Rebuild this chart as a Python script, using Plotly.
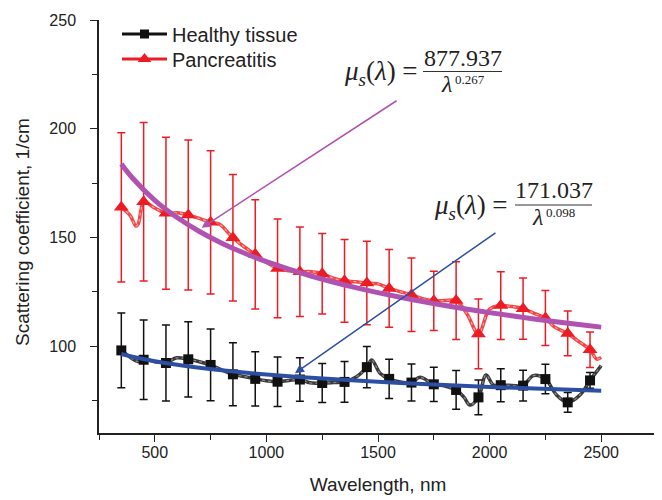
import plotly.graph_objects as go

# ---------------- data ----------------
wavelength = [350, 450, 550, 650, 750, 850, 950, 1050, 1150, 1250, 1350,
              1450, 1550, 1650, 1750, 1850, 1950, 2050, 2150, 2250, 2350, 2450]

healthy = [98.0, 93.7, 92.2, 93.9, 91.3, 87.0, 84.9, 83.6, 84.6, 83.0, 83.5,
           90.3, 84.9, 83.2, 82.4, 79.8, 76.4, 82.0, 81.8, 84.8, 74.1, 84.2]
healthy_err = [17.2, 18.3, 17.5, 17.3, 16.5, 14.5, 12.5, 11.4, 10.0, 9.0, 9.4,
               9.5, 9.0, 8.5, 7.9, 8.9, 8.0, 7.6, 7.1, 6.8, 4.5, 3.6]

pancreatitis = [163.8, 166.4, 161.1, 160.3, 156.9, 149.8, 142.2, 135.7, 134.2, 133.3, 130.0,
                129.0, 126.5, 123.6, 120.8, 120.9, 105.6, 118.6, 117.2, 112.9, 105.8, 98.3]
pancreatitis_err = [34.3, 36.5, 35.0, 34.5, 33.0, 29.1, 25.1, 22.7, 20.6, 18.5, 19.0,
                    19.2, 17.9, 16.9, 13.6, 17.9, 16.0, 15.6, 14.1, 12.7, 10.3, 8.2]

# continuous spectra
healthy_spec_wl = [350, 424, 450, 500, 550, 598, 650, 700, 750, 800, 850, 900, 950, 1000,
                   1050, 1100, 1150, 1195, 1250, 1300, 1350, 1404, 1450, 1472, 1509, 1550,
                   1600, 1650, 1688, 1750, 1800, 1850, 1885, 1912, 1950, 1984, 2017, 2050,
                   2100, 2150, 2196, 2250, 2300, 2350, 2405, 2450, 2500]
healthy_spec = [98.2, 92.9, 94.0, 92.8, 92.3, 94.6, 93.9, 92.8, 91.3, 89.0, 87.0, 86.0, 84.9, 84.0,
                83.6, 84.2, 84.6, 83.1, 83.0, 83.2, 83.5, 85.9, 90.3, 93.6, 87.5, 84.9,
                83.5, 83.2, 85.6, 82.4, 81.6, 79.8, 76.5, 72.9, 76.4, 86.7, 82.1, 82.0,
                81.9, 81.8, 86.4, 84.8, 77.5, 74.1, 77.5, 84.2, 91.0]

panc_spec_wl = [350, 390, 415, 425, 438, 450, 500, 550, 600, 650, 700, 750, 790, 850, 900,
                950, 1000, 1050, 1100, 1150, 1200, 1250, 1300, 1350, 1400, 1450, 1500, 1550,
                1600, 1650, 1700, 1750, 1800, 1850, 1900, 1950, 2000, 2050, 2100, 2150, 2200,
                2250, 2290, 2350, 2390, 2450, 2480, 2500]
panc_spec = [163.8, 160.0, 155.2, 156.0, 162.5, 166.4, 163.5, 161.1, 161.3, 160.3, 158.7, 156.9,
             156.0, 149.8, 145.7, 142.2, 138.5, 135.7, 134.6, 134.2, 134.2, 133.3, 131.2, 130.0,
             129.6, 129.0, 128.6, 126.5, 125.0, 123.6, 121.8, 120.8, 120.9, 120.9, 114.5, 105.6,
             117.0, 118.6, 118.2, 117.2, 115.0, 112.9, 108.8, 105.8, 102.8, 98.3, 94.0, 94.8]

# power-law fits (values of the fitted curves)
fit_wl = [350, 400, 500, 600, 700, 800, 900, 1000, 1200, 1400, 1600, 1800, 2000, 2200, 2400, 2500]
panc_fit = [183.74, 177.30, 167.05, 159.11, 152.69, 147.35, 142.78, 138.82, 132.23, 126.89,
            122.45, 118.66, 115.37, 112.47, 109.89, 108.70]
healthy_fit = [96.33, 95.08, 93.02, 91.38, 90.01, 88.84, 87.82, 86.91, 85.38, 84.10,
               83.00, 82.05, 81.21, 80.45, 79.77, 79.45]

series_names = ["Healthy tissue", "Pancreatitis"]
x_title = "Wavelength, nm"
y_title = "Scattering coefficient, 1/cm"

# ---------------- style ----------------
RED = "#ED1C24"
BLACK = "#111111"
PURPLE = "#B052B0"
BLUE = "#2D4FA3"
SANS = "Liberation Sans, Arial, sans-serif"
SERIF = "Liberation Serif, Times New Roman, serif"

OFF = 8  # page body margin
PAGE_W, PAGE_H = 662, 500
W, H = PAGE_W - OFF, PAGE_H - OFF
# plot area in page pixels: x 99..657, y 20..433
ML, MR, MT, MB = 99 - OFF, PAGE_W - 657, 20 - OFF, PAGE_H - 433
PW, PH = W - ML - MR, H - MT - MB


def px(xp):  # page pixel -> paper
    return (xp - OFF - ML) / PW


def py(yp):
    return (H - MB - (yp - OFF)) / PH


fig = go.Figure()

# continuous spectra
fig.add_trace(go.Scatter(x=healthy_spec_wl, y=healthy_spec, mode="lines", line_shape="spline",
                         line=dict(color="#3A3A3A", width=3.5), showlegend=False, hoverinfo="skip"))
fig.add_trace(go.Scatter(x=healthy_spec_wl, y=healthy_spec, mode="lines", line_shape="spline",
                         line=dict(color="#8C8C8C", width=1.2, dash="dot"), showlegend=False, hoverinfo="skip"))
fig.add_trace(go.Scatter(x=panc_spec_wl, y=panc_spec, mode="lines", line_shape="spline",
                         line=dict(color="#F04848", width=3.5), showlegend=False, hoverinfo="skip"))
fig.add_trace(go.Scatter(x=panc_spec_wl, y=panc_spec, mode="lines", line_shape="spline",
                         line=dict(color="#FFA0A0", width=1.2, dash="dot"), showlegend=False, hoverinfo="skip"))

# markers with error bars
fig.add_trace(go.Scatter(x=wavelength, y=healthy, mode="markers", name=series_names[0],
                         marker=dict(symbol="square", size=10, color=BLACK),
                         error_y=dict(type="data", array=healthy_err, color=BLACK, thickness=1.5, width=4),
                         showlegend=False))
fig.add_trace(go.Scatter(x=wavelength, y=pancreatitis, mode="markers", name=series_names[1],
                         marker=dict(symbol="triangle-up", size=13, color=RED),
                         error_y=dict(type="data", array=pancreatitis_err, color=RED, thickness=1.5, width=4),
                         showlegend=False))

# fits
fig.add_trace(go.Scatter(x=fit_wl, y=panc_fit, mode="lines", line_shape="spline",
                         line=dict(color=PURPLE, width=5), showlegend=False, hoverinfo="skip"))
fig.add_trace(go.Scatter(x=fit_wl, y=healthy_fit, mode="lines", line_shape="spline",
                         line=dict(color=BLUE, width=4), showlegend=False, hoverinfo="skip"))

# legend entries (each in its own legend box for exact row placement)
fig.add_trace(go.Scatter(x=[None], y=[None], mode="lines+markers", name=series_names[0],
                         line=dict(color=BLACK, width=3), legend="legend",
                         marker=dict(symbol="square", size=9, color=BLACK)))
fig.add_trace(go.Scatter(x=[None], y=[None], mode="lines+markers", name=series_names[1],
                         line=dict(color=RED, width=3), legend="legend2",
                         marker=dict(symbol="triangle-up", size=12, color=RED)))

annotations = [
    # arrows
    dict(x=710, y=154.4, ax=1590, ay=213.3, xref="x", yref="y", axref="x", ayref="y",
         text="", showarrow=True, arrowhead=2, arrowsize=1.2, arrowwidth=1.5, arrowcolor=PURPLE),
    dict(x=1128, y=87.5, ax=2033, ay=152.6, xref="x", yref="y", axref="x", ayref="y",
         text="", showarrow=True, arrowhead=2, arrowsize=1.2, arrowwidth=1.5, arrowcolor=BLUE),
    # y-axis title
    dict(x=px(22), y=py(232), xref="paper", yref="paper", xanchor="center", yanchor="middle",
         text=y_title, textangle=-90, showarrow=False,
         font=dict(family=SANS, size=19, color="#222222")),
]

left_font = dict(family=SERIF, size=27, color="#222222")
formula_font = dict(family=SERIF, size=24, color="#222222")
exp_font = dict(family=SERIF, size=13, color="#222222")


def formula(left_right_px, mid_y, num_text, num_cx, num_cy, lam_cx, lam_cy, exp_text, exp_x, exp_cy):
    return [
        dict(x=px(left_right_px), y=py(mid_y), xref="paper", yref="paper", xanchor="right", yanchor="middle",
             text="<i>μ<sub>s</sub></i>(<i>λ</i>) =", showarrow=False, font=left_font),
        dict(x=px(num_cx), y=py(num_cy), xref="paper", yref="paper", xanchor="center", yanchor="middle",
             text=num_text, showarrow=False, font=formula_font),
        dict(x=px(lam_cx), y=py(lam_cy), xref="paper", yref="paper", xanchor="center", yanchor="middle",
             text="<i>λ</i>", showarrow=False, font=formula_font),
        dict(x=px(exp_x), y=py(exp_cy), xref="paper", yref="paper", xanchor="left", yanchor="middle",
             text=exp_text, showarrow=False, font=exp_font),
    ]


annotations += formula(420, 73, "877.937", 463, 58, 446, 84, "0.267", 453, 79)
annotations += formula(510, 207, "171.037", 554, 190, 537, 217, "0.098", 544, 212)

shapes = [
    dict(type="line", xref="paper", yref="paper", x0=px(423), x1=px(502), y0=py(71.5), y1=py(71.5),
         line=dict(color="#333333", width=1)),
    dict(type="line", xref="paper", yref="paper", x0=px(515), x1=px(592), y0=py(205), y1=py(205),
         line=dict(color="#333333", width=1)),
]

axis_common = dict(showline=True, linecolor="#222222", linewidth=1.5, ticks="outside", ticklen=7,
                   tickwidth=1.3, tickcolor="#222222", showgrid=False, zeroline=False,
                   tickfont=dict(family=SANS, size=16, color="#222222"))

legend_style = dict(xanchor="left", yanchor="middle", bgcolor="rgba(0,0,0,0)",
                    font=dict(family=SANS, size=20, color="#222222"), itemwidth=45)

fig.update_layout(
    width=W, height=H,
    margin=dict(l=ML, r=MR, t=MT, b=MB, autoexpand=False),
    paper_bgcolor="white", plot_bgcolor="white",
    xaxis=dict(range=[250, 2750], tick0=0, dtick=500, ticklabelstandoff=-3, **axis_common,
               minor=dict(dtick=250, ticks="outside", ticklen=5, tickwidth=1.3, tickcolor="#222222"),
               title=dict(text=x_title, font=dict(family=SANS, size=19, color="#222222"), standoff=18)),
    yaxis=dict(range=[60, 250], tick0=0, dtick=50, ticklabelstandoff=11, **axis_common,
               minor=dict(dtick=25, ticks="outside", ticklen=5, tickwidth=1.3, tickcolor="#222222"),
               title=dict(text="")),
    legend=dict(x=px(117), y=py(34), **legend_style),
    legend2=dict(x=px(117), y=py(59), **legend_style),
    annotations=annotations,
    shapes=shapes,
    showlegend=True,
)

fig.write_html("out.html")
